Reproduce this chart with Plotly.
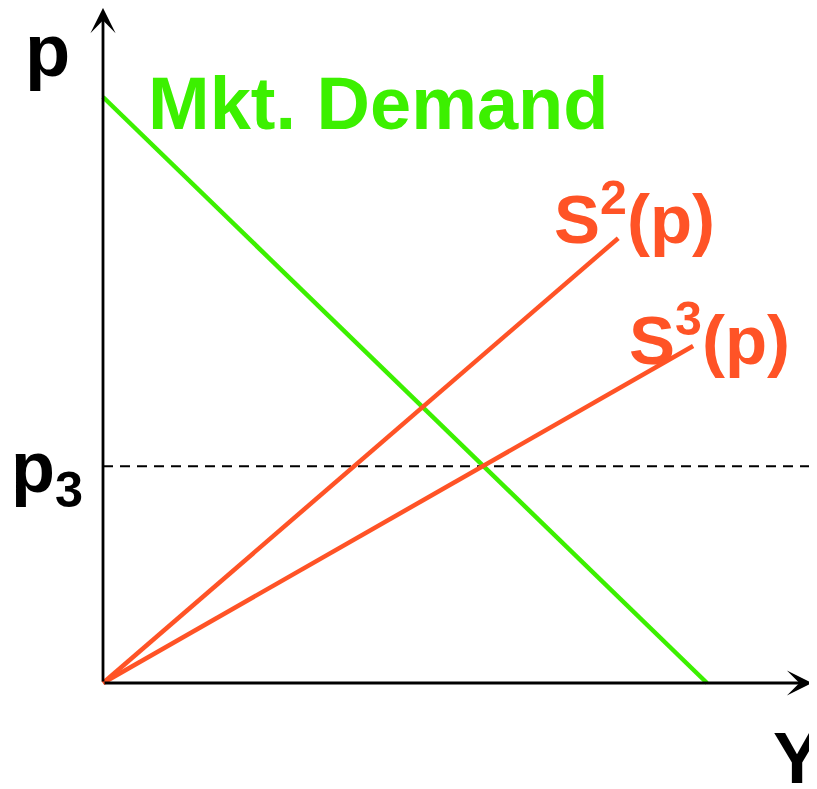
import plotly.graph_objects as go

# Data (economic units)
demand_Y = [0, 10]
demand_p = [10, 0]
s2_Y = [0, 8.53]
s2_p = [0, 7.59]
s3_Y = [0, 9.77]
s3_p = [0, 5.75]
p3 = 3.70
y_axis_max = 11.52
x_axis_max = 11.74

GREEN = "#3cf000"
ORANGE = "#ff5326"
FONT = "Liberation Sans, Arial, sans-serif"

# visible pixel -> data helpers (page body has an 8px margin)
def dx(px):
    return (px - 103) / 60.4

def dy(py):
    return (683 - py) / 58.6

OFF = 8

fig = go.Figure()
fig.add_trace(go.Scatter(x=[0, x_axis_max], y=[p3, p3], mode="lines",
                         line=dict(color="black", width=2, dash="10px,7px"), hoverinfo="skip"))
fig.add_trace(go.Scatter(x=demand_Y, y=demand_p, mode="lines",
                         line=dict(color=GREEN, width=4.5), hoverinfo="skip"))
fig.add_trace(go.Scatter(x=s2_Y, y=s2_p, mode="lines",
                         line=dict(color=ORANGE, width=4.5), hoverinfo="skip"))
fig.add_trace(go.Scatter(x=s3_Y, y=s3_p, mode="lines",
                         line=dict(color=ORANGE, width=4.5), hoverinfo="skip"))

annotations = [
    # axes arrows
    dict(x=0, y=y_axis_max, ax=0, ay=0, xref="x", yref="y", axref="x", ayref="y",
         showarrow=True, arrowhead=3, arrowsize=1.5, arrowwidth=2.8, arrowcolor="black", text=""),
    dict(x=x_axis_max, y=0, ax=0, ay=0, xref="x", yref="y", axref="x", ayref="y",
         showarrow=True, arrowhead=3, arrowsize=1.5, arrowwidth=2.8, arrowcolor="black", text=""),
    # labels
    dict(x=dx(47), y=dy(50), text="<b>p</b>", showarrow=False, xanchor="center", yanchor="middle",
         font=dict(family=FONT, size=74, color="black")),
    dict(x=dx(146), y=dy(103), text="<b>Mkt. Demand</b>", showarrow=False, xanchor="left", yanchor="middle",
         font=dict(family=FONT, size=74, color=GREEN)),
    dict(x=dx(552), y=dy(214), text="<b>S<sup>2</sup>(p)</b>", showarrow=False, xanchor="left", yanchor="middle",
         font=dict(family=FONT, size=69, color=ORANGE)),
    dict(x=dx(627), y=dy(335), text="<b>S<sup>3</sup>(p)</b>", showarrow=False, xanchor="left", yanchor="middle",
         font=dict(family=FONT, size=69, color=ORANGE)),
    dict(x=dx(9), y=dy(472), text="<b>p<sub>3</sub></b>", showarrow=False, xanchor="left", yanchor="middle",
         font=dict(family=FONT, size=72, color="black")),
    dict(x=dx(771), y=dy(758), text="<b>Y</b>", showarrow=False, xanchor="left", yanchor="middle",
         font=dict(family=FONT, size=72, color="black")),
]

fig.update_layout(
    width=817, height=789,
    margin=dict(l=0, r=0, t=0, b=0),
    paper_bgcolor="white", plot_bgcolor="white",
    showlegend=False,
    xaxis=dict(range=[dx(OFF), dx(817 + OFF)], visible=False, fixedrange=True),
    yaxis=dict(range=[dy(789 + OFF), dy(OFF)], visible=False, fixedrange=True),
    annotations=annotations,
)

fig.write_html("out.html")
